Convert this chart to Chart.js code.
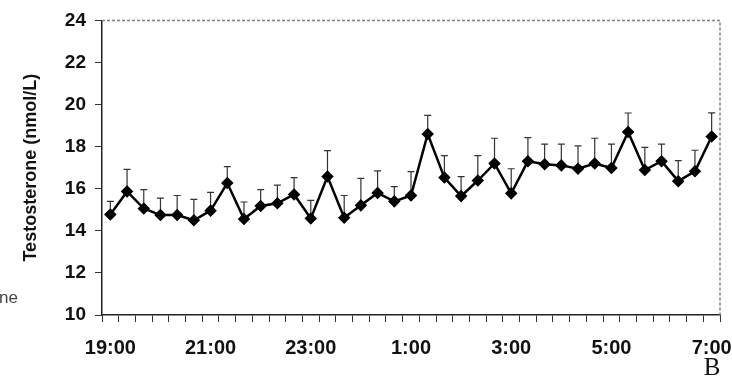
<!DOCTYPE html>
<html>
<head>
<meta charset="utf-8">
<script src="https://cdn.jsdelivr.net/npm/chart.js@4/dist/chart.umd.min.js"></script>
<style>
  html, body { margin: 0; padding: 0; background: #fff; }
  #wrap { width: 732px; height: 381px; position: relative; }
</style>
</head>
<body>
<div id="wrap"><canvas id="c" width="732" height="381"></canvas></div>
<script>
// Sampling times, every 20 minutes through the night
const times = ['19:00','19:20','19:40','20:00','20:20','20:40','21:00','21:20','21:40','22:00','22:20','22:40',
  '23:00','23:20','23:40','0:00','0:20','0:40','1:00','1:20','1:40','2:00','2:20','2:40',
  '3:00','3:20','3:40','4:00','4:20','4:40','5:00','5:20','5:40','6:00','6:20','6:40','7:00'];

// Hour labels shown on the time axis
const hourLabels = ['19:00','21:00','23:00','1:00','3:00','5:00','7:00'];

// Mean testosterone (nmol/L)
const testosterone = [14.78, 15.87, 15.06, 14.75, 14.75, 14.50, 14.96, 16.27, 14.56, 15.18, 15.31, 15.73,
  14.59, 16.58, 14.62, 15.21, 15.80, 15.40, 15.68, 18.60, 16.53, 15.65, 16.39, 17.20,
  15.78, 17.31, 17.16, 17.11, 16.95, 17.20, 16.99, 18.70, 16.89, 17.31, 16.36, 16.83, 18.48];

// Upper error (SD) for each sample
const errorSD = [0.62, 1.05, 0.90, 0.80, 0.93, 0.99, 0.87, 0.78, 0.81, 0.78, 0.86, 0.80,
  0.86, 1.23, 1.06, 1.28, 1.05, 0.70, 1.13, 0.89, 1.04, 0.93, 1.18, 1.20,
  1.17, 1.12, 0.96, 1.01, 1.09, 1.20, 1.13, 0.90, 1.08, 0.81, 0.98, 1.00, 1.13];

// Y axis tick values
const yTicks = [10, 12, 14, 16, 18, 20, 22, 24];

const FONT = "'Liberation Sans', Arial, Helvetica, sans-serif";

// Upward error bars with a small cap, drawn under the line
const errorBars = {
  id: 'errorBars',
  beforeDatasetsDraw(chart) {
    const { ctx, scales: { x, y } } = chart;
    ctx.save();
    ctx.strokeStyle = '#333';
    ctx.lineWidth = 1.2;
    testosterone.forEach((v, i) => {
      const px = x.getPixelForValue(i);
      const y0 = y.getPixelForValue(v);
      const y1 = y.getPixelForValue(v + errorSD[i]);
      ctx.beginPath();
      ctx.moveTo(px, y0);
      ctx.lineTo(px, y1);
      ctx.moveTo(px - 3.5, y1);
      ctx.lineTo(px + 3.5, y1);
      ctx.stroke();
    });
    ctx.restore();
  }
};

// Dotted frame along the top and right of the plot area, plus panel letter
const frame = {
  id: 'frame',
  afterDraw(chart) {
    const { ctx, chartArea: a } = chart;
    ctx.save();
    ctx.strokeStyle = '#808080';
    ctx.lineWidth = 1.5;
    ctx.setLineDash([3, 2]);
    ctx.beginPath();
    ctx.moveTo(a.left, a.top);
    ctx.lineTo(a.right, a.top);
    ctx.lineTo(a.right, a.bottom);
    ctx.stroke();
    ctx.setLineDash([]);
    ctx.fillStyle = '#111';
    ctx.font = "25px 'Liberation Serif', 'Times New Roman', serif";
    ctx.textAlign = 'center';
    ctx.textBaseline = 'alphabetic';
    ctx.fillText('B', 712, 375);
    ctx.fillStyle = '#444';
    ctx.font = "17px " + FONT;
    ctx.textAlign = 'left';
    ctx.fillText('ne', -1, 303);
    ctx.restore();
  }
};

new Chart(document.getElementById('c'), {
  type: 'line',
  data: {
    labels: times,
    datasets: [{
      data: testosterone,
      borderColor: '#000',
      borderWidth: 2.5,
      pointStyle: 'rectRot',
      pointRadius: 4.5,
      pointBackgroundColor: '#000',
      pointBorderColor: '#000',
      tension: 0,
      fill: false
    }]
  },
  options: {
    responsive: false,
    animation: false,
    devicePixelRatio: 1,
    layout: { padding: { top: 15, right: 12, bottom: 0, left: 0 } },
    plugins: { legend: { display: false }, tooltip: { enabled: false } },
    scales: {
      x: {
        type: 'category',
        offset: true,
        afterFit(s) { s.height = 66; s.paddingLeft = 0; s.paddingRight = 0; },
        grid: { offset: true, drawOnChartArea: false, drawTicks: true, tickLength: 7, color: '#333', lineWidth: 1 },
        border: { display: true, color: '#222', width: 1.5 },
        ticks: {
          autoSkip: false,
          maxRotation: 0,
          padding: 14,
          color: '#111',
          font: { family: FONT, size: 20, weight: 'bold' },
          callback(val, i) { return hourLabels.includes(times[i]) ? times[i] : ''; }
        }
      },
      y: {
        min: 10,
        max: 24,
        afterFit(s) { s.width = 102; },
        afterBuildTicks(s) { s.ticks = yTicks.map(v => ({ value: v })); },
        grid: { drawOnChartArea: false, drawTicks: true, tickLength: 7, color: '#333', lineWidth: 1 },
        border: { display: true, color: '#222', width: 1.5 },
        ticks: {
          padding: 9,
          color: '#111',
          font: { family: FONT, size: 19, weight: 'bold' }
        },
        title: {
          display: true,
          text: 'Testosterone (nmol/L)',
          color: '#111',
          font: { family: FONT, size: 18, weight: 'bold' },
          padding: { top: 20, bottom: 0 }
        }
      }
    }
  },
  plugins: [errorBars, frame]
});
</script>
</body>
</html>
